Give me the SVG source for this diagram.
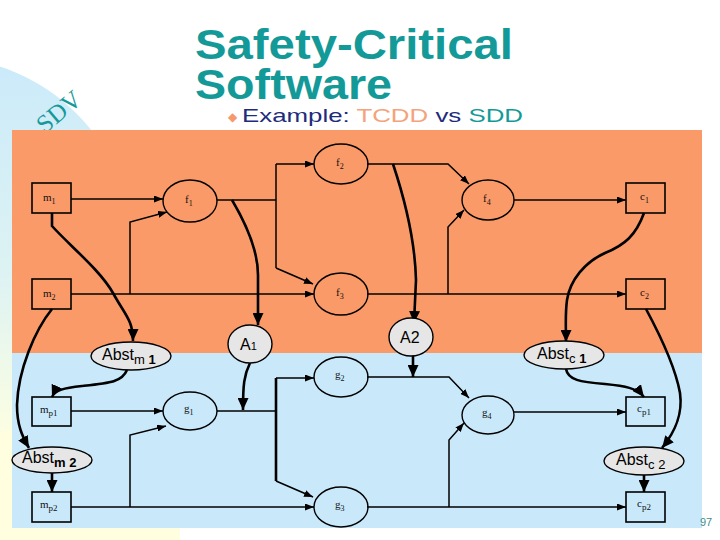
<svg xmlns="http://www.w3.org/2000/svg" width="720" height="540" viewBox="0 0 720 540">
<style>
.t{fill:none;stroke:#000;stroke-width:1.5}
.k{fill:none;stroke:#000;stroke-width:2.6}
.box{fill:none;stroke:#000;stroke-width:1.6}
.el{fill:none;stroke:#000;stroke-width:1.4}
.gr{fill:#E6E6E6;stroke:#000;stroke-width:1.4}
.lb{font-family:"Liberation Serif",serif;font-size:11px;fill:#111}
.ab{font-family:"Liberation Sans",Arial,sans-serif;font-size:16px;fill:#000}
</style>
<defs>
<linearGradient id="bg" gradientUnits="userSpaceOnUse" x1="0" y1="60" x2="0" y2="450">
<stop offset="0" stop-color="#CBEAFA"/>
<stop offset="0.55" stop-color="#DDF3F3"/>
<stop offset="1" stop-color="#FFFFE0"/>
</linearGradient>
<marker id="a" markerWidth="9" markerHeight="7" refX="9" refY="3.5" orient="auto" markerUnits="userSpaceOnUse"><path d="M0,0 L9,3.5 L0,7 z" fill="#000"/></marker>
<marker id="A" markerWidth="12" markerHeight="11" refX="12" refY="5.5" orient="auto" markerUnits="userSpaceOnUse"><path d="M0,0 L12,5.5 L0,11 z" fill="#000"/></marker>
</defs>
<rect x="0" y="0" width="720" height="540" fill="#fff"/>
<rect x="0" y="280" width="180" height="260" fill="#FFFFE0"/>
<circle cx="-60" cy="250" r="193" fill="url(#bg)"/>
<text x="45" y="134" transform="rotate(-40 45 134)" font-family="Liberation Serif,serif" font-size="25" fill="#16999A">SDV</text>
<g id="title" font-family="Liberation Sans,Arial,sans-serif">
<text x="195" y="59" font-size="42" font-weight="bold" fill="#139A98" textLength="318" lengthAdjust="spacingAndGlyphs">Safety-Critical</text>
<text x="195" y="99" font-size="42" font-weight="bold" fill="#139A98" textLength="197" lengthAdjust="spacingAndGlyphs">Software</text>
<text x="228" y="121" font-family="DejaVu Sans,sans-serif" font-size="12" fill="#F49A6C">◆</text>
<text x="242" y="122" font-size="19" textLength="281" lengthAdjust="spacingAndGlyphs"><tspan fill="#1E2C7C">Example: </tspan><tspan fill="#F4A37C">TCDD</tspan><tspan fill="#1E2C7C"> vs </tspan><tspan fill="#139A98">SDD</tspan></text>
</g>
<rect x="12" y="130" width="690" height="223" fill="#FA9A68"/>
<rect x="12" y="353" width="690" height="175" fill="#C9E9FB"/>
<text x="700" y="526" font-family="Liberation Sans,Arial,sans-serif" font-size="11" fill="#3F8C8C">97</text>
<g id="connectors">
<path class="t" d="M71,199 H163" marker-end="url(#a)"/>
<path class="t" d="M71,294 H314" marker-end="url(#a)"/>
<path class="t" d="M130,294 V222 L167,212" marker-end="url(#a)"/>
<path class="t" d="M217,200 H276"/>
<path class="t" d="M276,164 V268"/>
<path class="t" d="M276,164 H314" marker-end="url(#a)"/>
<path class="t" d="M276,268 L313,284" marker-end="url(#a)"/>
<path class="t" d="M367,164 H448 L469,184" marker-end="url(#a)"/>
<path class="t" d="M367,294 H626" marker-end="url(#a)"/>
<path class="t" d="M448,294 V227 L464,210" marker-end="url(#a)"/>
<path class="t" d="M514,200 H626" marker-end="url(#a)"/>
<path class="k" d="M52,213 L52,226 C70,246 100,270 113,293 C125,315 133,320 133,341" marker-end="url(#A)"/>
<path class="k" d="M52,309 C35,330 18,370 17,405 C17,425 22,436 29,448" marker-end="url(#A)"/>
<path class="k" d="M127,370 C122,382 110,383 82,386 C64,388 55,390 52,397" marker-end="url(#A)"/>
<path class="k" d="M52,473 V492" marker-end="url(#A)"/>
<path class="k" d="M232,200 C245,222 258,250 258,275 L258,325" marker-end="url(#A)"/>
<path class="k" d="M250,363 C244,375 243,385 243,410" marker-end="url(#A)"/>
<path class="k" d="M393,164 C405,200 415,240 416,280 L414,323" marker-end="url(#A)"/>
<path class="k" d="M413,355 V377" marker-end="url(#A)"/>
<path class="k" d="M644,213 C636,235 625,245 605,253 C585,262 570,280 567,300 C565,315 566,325 566,342" marker-end="url(#A)"/>
<path class="k" d="M646,309 C660,335 675,365 680,393 C683,415 675,432 662,448" marker-end="url(#A)"/>
<path class="k" d="M566,369 C568,380 580,382 605,384 C625,386 637,388 644,397" marker-end="url(#A)"/>
<path class="k" d="M644,475 V492" marker-end="url(#A)"/>
<path class="t" d="M71,411 H163" marker-end="url(#a)"/>
<path class="t" d="M71,507 H314" marker-end="url(#a)"/>
<path class="t" d="M130,507 V435 L166,426" marker-end="url(#a)"/>
<path class="t" d="M217,411 H276"/>
<path class="k" d="M276,378 V481"/>
<path class="t" d="M276,378 H314" marker-end="url(#a)"/>
<path class="t" d="M276,481 L313,497" marker-end="url(#a)"/>
<path class="t" d="M367,377 H449 L469,398" marker-end="url(#a)"/>
<path class="t" d="M367,507 H626" marker-end="url(#a)"/>
<path class="t" d="M449,507 V440 L464,423" marker-end="url(#a)"/>
<path class="t" d="M514,412 H626" marker-end="url(#a)"/>
</g>
<g id="m1"><rect class="box" x="32" y="183" width="39" height="30"/><text class="lb" x="43" y="201">m<tspan font-size="8" dy="3">1</tspan></text></g>
<g id="m2"><rect class="box" x="32" y="279" width="39" height="30"/><text class="lb" x="43" y="297">m<tspan font-size="8" dy="3">2</tspan></text></g>
<g id="mp1"><rect class="box" x="32" y="397" width="39" height="29"/><text class="lb" x="40" y="413">m<tspan font-size="9" dy="3">p1</tspan></text></g>
<g id="mp2"><rect class="box" x="32" y="492" width="39" height="30"/><text class="lb" x="40" y="508">m<tspan font-size="9" dy="3">p2</tspan></text></g>
<g id="c1"><rect class="box" x="626" y="183" width="39" height="30"/><text class="lb" x="640" y="200">c<tspan font-size="8" dy="3">1</tspan></text></g>
<g id="c2"><rect class="box" x="626" y="279" width="39" height="30"/><text class="lb" x="640" y="296">c<tspan font-size="8" dy="3">2</tspan></text></g>
<g id="cp1"><rect class="box" x="626" y="397" width="39" height="29"/><text class="lb" x="637" y="412">c<tspan font-size="9" dy="3">p1</tspan></text></g>
<g id="cp2"><rect class="box" x="626" y="492" width="39" height="30"/><text class="lb" x="637" y="507">c<tspan font-size="9" dy="3">p2</tspan></text></g>
<g id="f1"><ellipse class="el" cx="190" cy="201" rx="27" ry="21"/><text class="lb" x="185" y="203">f<tspan font-size="8" dy="3">1</tspan></text></g>
<g id="f2"><ellipse class="el" cx="341" cy="164" rx="27" ry="20"/><text class="lb" x="336" y="166">f<tspan font-size="8" dy="3">2</tspan></text></g>
<g id="f3"><ellipse class="el" cx="341" cy="294" rx="27" ry="21"/><text class="lb" x="336" y="296">f<tspan font-size="8" dy="3">3</tspan></text></g>
<g id="f4"><ellipse class="el" cx="488" cy="200" rx="26" ry="20"/><text class="lb" x="483" y="202">f<tspan font-size="8" dy="3">4</tspan></text></g>
<g id="g1"><ellipse class="el" cx="190" cy="411" rx="27" ry="19"/><text class="lb" x="184" y="412">g<tspan font-size="8" dy="3">1</tspan></text></g>
<g id="g2"><ellipse class="el" cx="341" cy="377" rx="27" ry="20"/><text class="lb" x="335" y="378">g<tspan font-size="8" dy="3">2</tspan></text></g>
<g id="g3"><ellipse class="el" cx="341" cy="507" rx="27" ry="20"/><text class="lb" x="335" y="508">g<tspan font-size="8" dy="3">3</tspan></text></g>
<g id="g4"><ellipse class="el" cx="488" cy="415" rx="26" ry="19"/><text class="lb" x="482" y="416">g<tspan font-size="8" dy="3">4</tspan></text></g>
<g id="A1"><ellipse class="gr" cx="250" cy="344" rx="22" ry="19"/><text class="ab" x="240" y="350" font-size="15">A<tspan font-size="11">1</tspan></text></g>
<g id="A2"><ellipse class="gr" cx="411" cy="337" rx="22" ry="19"/><text class="ab" x="400" y="343" font-size="15">A2</text></g>
<g id="Abstm1"><ellipse class="gr" cx="131" cy="356" rx="40" ry="14"/><text class="ab" x="102" y="360">Abst<tspan font-size="13" dy="4">m </tspan><tspan font-size="13" font-weight="bold">1</tspan></text></g>
<g id="Abstm2"><ellipse class="gr" cx="52" cy="460" rx="40" ry="13"/><text class="ab" x="22" y="463">Abst<tspan font-size="13" dy="4" font-weight="bold">m 2</tspan></text></g>
<g id="Abstc1"><ellipse class="gr" cx="564" cy="355" rx="40" ry="14"/><text class="ab" x="537" y="359">Abst<tspan font-size="13" dy="4">c </tspan><tspan font-size="13" font-weight="bold">1</tspan></text></g>
<g id="Abstc2"><ellipse class="gr" cx="644" cy="461" rx="40" ry="14"/><text class="ab" x="616" y="465">Abst<tspan font-size="13" dy="4">c 2</tspan></text></g>
</svg>
